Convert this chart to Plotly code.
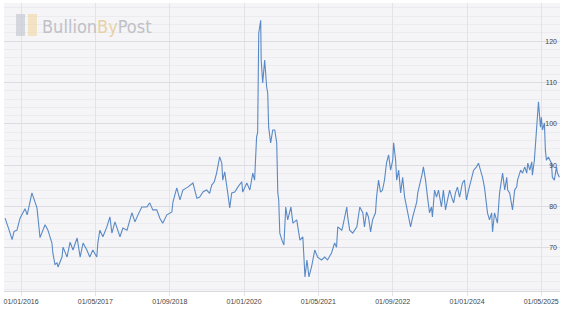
import plotly.graph_objects as go

# Gold / silver ratio
dates = [
    "2015-09-18", "2015-09-30", "2015-10-13", "2015-11-03", "2015-11-16", "2015-12-05", "2015-12-25",
    "2016-01-27", "2016-02-10", "2016-03-12", "2016-04-01", "2016-04-14", "2016-05-04", "2016-06-06",
    "2016-06-25", "2016-07-08", "2016-07-21", "2016-07-27", "2016-08-10", "2016-08-23", "2016-08-30",
    "2016-09-25", "2016-10-02", "2016-10-28", "2016-11-17", "2016-12-06", "2017-01-02", "2017-01-22",
    "2017-02-10", "2017-03-07", "2017-03-26", "2017-04-15", "2017-05-11", "2017-05-18", "2017-05-31",
    "2017-06-20", "2017-07-16", "2017-08-05", "2017-08-18", "2017-09-07", "2017-09-27", "2017-10-10",
    "2017-10-29", "2017-11-25", "2017-12-27", "2018-01-16", "2018-02-05", "2018-03-02", "2018-04-04",
    "2018-04-23", "2018-05-13", "2018-06-08", "2018-06-28", "2018-07-17", "2018-08-13", "2018-09-15",
    "2018-09-22", "2018-10-17", "2018-11-07", "2018-11-26", "2018-12-28", "2019-01-31", "2019-02-26",
    "2019-03-16", "2019-04-08", "2019-05-01", "2019-05-20", "2019-06-03", "2019-06-20", "2019-07-05",
    "2019-07-25", "2019-08-08", "2019-08-14",
    "2019-08-27", "2019-09-16", "2019-09-29", "2019-10-12", "2019-11-01", "2019-11-21", "2019-12-17",
    "2019-12-23", "2020-01-19", "2020-02-08", "2020-02-27", "2020-03-10", "2020-03-23", "2020-03-30",
    "2020-04-06", "2020-04-19", "2020-04-22", "2020-05-02", "2020-05-09", "2020-05-15", "2020-05-28",
    "2020-06-04", "2020-06-10", "2020-06-23", "2020-07-07", "2020-07-20", "2020-08-02", "2020-08-09",
    "2020-08-15", "2020-08-22", "2020-09-05", "2020-09-18", "2020-09-30", "2020-10-13", "2020-11-03",
    "2020-11-16", "2020-12-11", "2021-01-01", "2021-01-20", "2021-02-03", "2021-02-16", "2021-03-01",
    "2021-03-18", "2021-04-08", "2021-04-27", "2021-05-23", "2021-06-12", "2021-07-01", "2021-07-27",
    "2021-08-16", "2021-08-29", "2021-09-06", "2021-10-02", "2021-10-08", "2021-11-04", "2021-11-10",
    "2021-11-23", "2021-12-13", "2022-01-09", "2022-01-28", "2022-02-17", "2022-02-28", "2022-03-13",
    "2022-03-26", "2022-04-09", "2022-04-22", "2022-05-11", "2022-05-18", "2022-05-31", "2022-06-13",
    "2022-06-26", "2022-07-09", "2022-07-22", "2022-08-05", "2022-08-18", "2022-09-01", "2022-09-07",
    "2022-09-20", "2022-09-27", "2022-10-10", "2022-10-23", "2022-11-05", "2022-11-18", "2022-12-01",
    "2022-12-08", "2022-12-27", "2023-01-10", "2023-01-23", "2023-02-05", "2023-02-12", "2023-03-01",
    "2023-03-14", "2023-03-21", "2023-04-04", "2023-04-17", "2023-04-30", "2023-05-13", "2023-05-19",
    "2023-06-02", "2023-06-15", "2023-06-28", "2023-07-17", "2023-07-30", "2023-08-13", "2023-08-26",
    "2023-09-09", "2023-09-22", "2023-10-05", "2023-10-17", "2023-10-30", "2023-11-13", "2023-12-02",
    "2023-12-15", "2023-12-28", "2024-01-11", "2024-01-31", "2024-02-13", "2024-03-03", "2024-03-16",
    "2024-03-29", "2024-04-11", "2024-04-24", "2024-05-08", "2024-05-14", "2024-05-27", "2024-06-10",
    "2024-06-16", "2024-06-29", "2024-07-12", "2024-07-18", "2024-08-01", "2024-08-14", "2024-08-21",
    "2024-09-04", "2024-09-17", "2024-09-23", "2024-10-06", "2024-10-25", "2024-11-08", "2024-11-21",
    "2024-11-27", "2024-12-17", "2024-12-30", "2025-01-13", "2025-01-26", "2025-02-02", "2025-02-15",
    "2025-02-28", "2025-03-04", "2025-03-17", "2025-03-30", "2025-04-06", "2025-04-13", "2025-04-26",
    "2025-05-02", "2025-05-09", "2025-05-22", "2025-05-28", "2025-06-04", "2025-06-17", "2025-07-07",
    "2025-07-13", "2025-07-26", "2025-08-09", "2025-08-15", "2025-08-28",
]

ratio = [
    77.2, 76.0, 74.5, 72.0, 74.0, 74.3, 77.2,
    79.5, 78.0, 83.3, 81.0, 79.7, 72.5, 75.6,
    74.3, 72.7, 71.2, 68.8, 66.0, 66.4, 65.4,
    67.8, 70.2, 67.8, 71.4, 69.5, 72.4, 67.8,
    71.2, 69.5, 67.8, 69.5, 67.8, 71.2, 74.3,
    72.7, 75.1, 77.5, 73.6, 76.3, 74.3, 72.7,
    74.8, 74.3, 78.5, 76.3, 78.0, 79.9, 79.9,
    80.9, 79.2, 79.2, 77.2, 76.0, 78.0, 78.7,
    81.1, 84.5, 81.6, 84.0, 84.7, 85.7, 82.0,
    82.3, 83.6, 84.0, 83.2, 85.2, 86.0, 88.1,
    92.0, 90.5, 86.4,
    88.4, 83.3, 79.7, 83.3, 83.5, 84.7, 86.0,
    83.5, 85.7, 84.0, 88.1, 86.4, 96.8, 98.0,
    121.9, 125.0, 115.4, 109.9, 113.7, 115.4, 108.9,
    107.4, 99.2, 95.4, 98.5, 98.5, 95.4, 83.3,
    81.6, 73.6, 71.9, 70.7, 79.9, 76.8, 79.9,
    76.0, 76.8, 71.9, 72.7, 63.0, 67.1, 63.0,
    65.4, 69.5, 67.8, 67.1, 67.8, 67.1, 68.8,
    71.2, 70.2, 75.1, 74.3, 75.1, 79.9, 77.5,
    74.3, 73.6, 75.1, 79.9, 78.5, 75.1, 78.7,
    77.5, 73.9, 76.8, 78.5, 82.3, 86.4, 83.5,
    84.0, 86.4, 90.5, 92.5, 88.8, 91.2, 95.4,
    91.2, 86.4, 88.8, 83.3, 87.1, 82.3, 79.9,
    78.5, 75.1, 77.5, 79.2, 81.1, 83.3, 85.7,
    88.1, 89.6, 86.4, 82.3, 78.5, 79.9, 77.5,
    84.0, 82.3, 84.0, 79.9, 84.0, 79.2, 81.6,
    84.0, 82.3, 80.9, 83.3, 84.7, 82.3, 85.7,
    86.4, 81.6, 84.0, 87.1, 88.8, 89.6, 90.5,
    88.8, 87.1, 84.7, 79.9, 78.5, 76.8, 78.5,
    73.9, 78.5, 76.8, 76.0, 83.3, 86.4, 88.1,
    84.0, 87.1, 84.0, 83.3, 79.2, 84.0, 84.7,
    86.4, 88.8, 88.1, 89.6, 88.1, 90.5, 88.8,
    90.8, 87.6, 91.2, 98.5, 100.9, 105.3, 99.2,
    101.6, 98.5, 100.2, 93.7, 91.2, 92.0, 90.5,
    87.1, 86.4, 89.6, 88.1, 87.1,
]

tick_dates = ["2016-01-01", "2017-05-01", "2018-09-01", "2020-01-01",
              "2021-05-01", "2022-09-01", "2024-01-01", "2025-05-01"]
tick_text = ["01/01/2016", "01/05/2017", "01/09/2018", "01/01/2020",
             "01/05/2021", "01/09/2022", "01/01/2024", "01/05/2025"]
y_ticks = [70, 80, 90, 100, 110, 120]

fig = go.Figure()
fig.add_trace(go.Scatter(
    x=dates, y=ratio, mode="lines",
    line=dict(color="#5a8ac6", width=1.1),
    hoverinfo="skip",
))

fig.update_layout(
    width=565, height=310,
    margin=dict(l=4, r=5, t=3, b=19),
    paper_bgcolor="#ffffff",
    plot_bgcolor="#f5f5f7",
    showlegend=False,
    font=dict(family="Liberation Sans, Arial, sans-serif", size=7, color="#333333"),
    xaxis=dict(
        type="date",
        range=["2015-09-11", "2025-09-01"],
        tickvals=tick_dates, ticktext=tick_text,
        showgrid=True, gridcolor="#e2e2e8", gridwidth=1,
        ticks="outside", ticklen=4, tickcolor="#e2e2e8",
        showline=True, linecolor="#d8d8de", linewidth=1,
        tickfont=dict(size=7, color="#444444"),
        zeroline=False,
    ),
    yaxis=dict(
        range=[59.6, 129.2],
        tickvals=y_ticks,
        side="right",
        ticklabelposition="inside",
        showgrid=True, gridcolor="#dcdce2", gridwidth=1,
        minor=dict(dtick=2, showgrid=True, gridcolor="#ebebf0", gridwidth=1),
        tickfont=dict(size=7, color="#444444"),
        zeroline=False,
        showline=False,
    ),
)

# BullionByPost watermark
fig.add_shape(type="rect", xref="paper", yref="paper",
              x0=(16 - 4) / 556, x1=(25 - 4) / 556,
              y0=(291 - 36) / 288, y1=(291 - 14) / 288,
              fillcolor="#c8ccd6", line_width=0, opacity=0.75, layer="above")
fig.add_shape(type="rect", xref="paper", yref="paper",
              x0=(28 - 4) / 556, x1=(37 - 4) / 556,
              y0=(291 - 36) / 288, y1=(291 - 14) / 288,
              fillcolor="#f0dcb4", line_width=0, opacity=0.75, layer="above")
fig.add_annotation(
    xref="paper", yref="paper",
    x=(40 - 4) / 556, y=(291 - 26) / 288,
    xanchor="left", yanchor="middle", showarrow=False,
    text="<span style='color:#c0c0c6'>Bullion</span><span style='color:#e8d2a4'>By</span><span style='color:#c0c0c6'>Post</span>",
    font=dict(family="Liberation Sans Narrow, DejaVu Sans Condensed, sans-serif", size=18),
)

fig.write_html("out.html")
